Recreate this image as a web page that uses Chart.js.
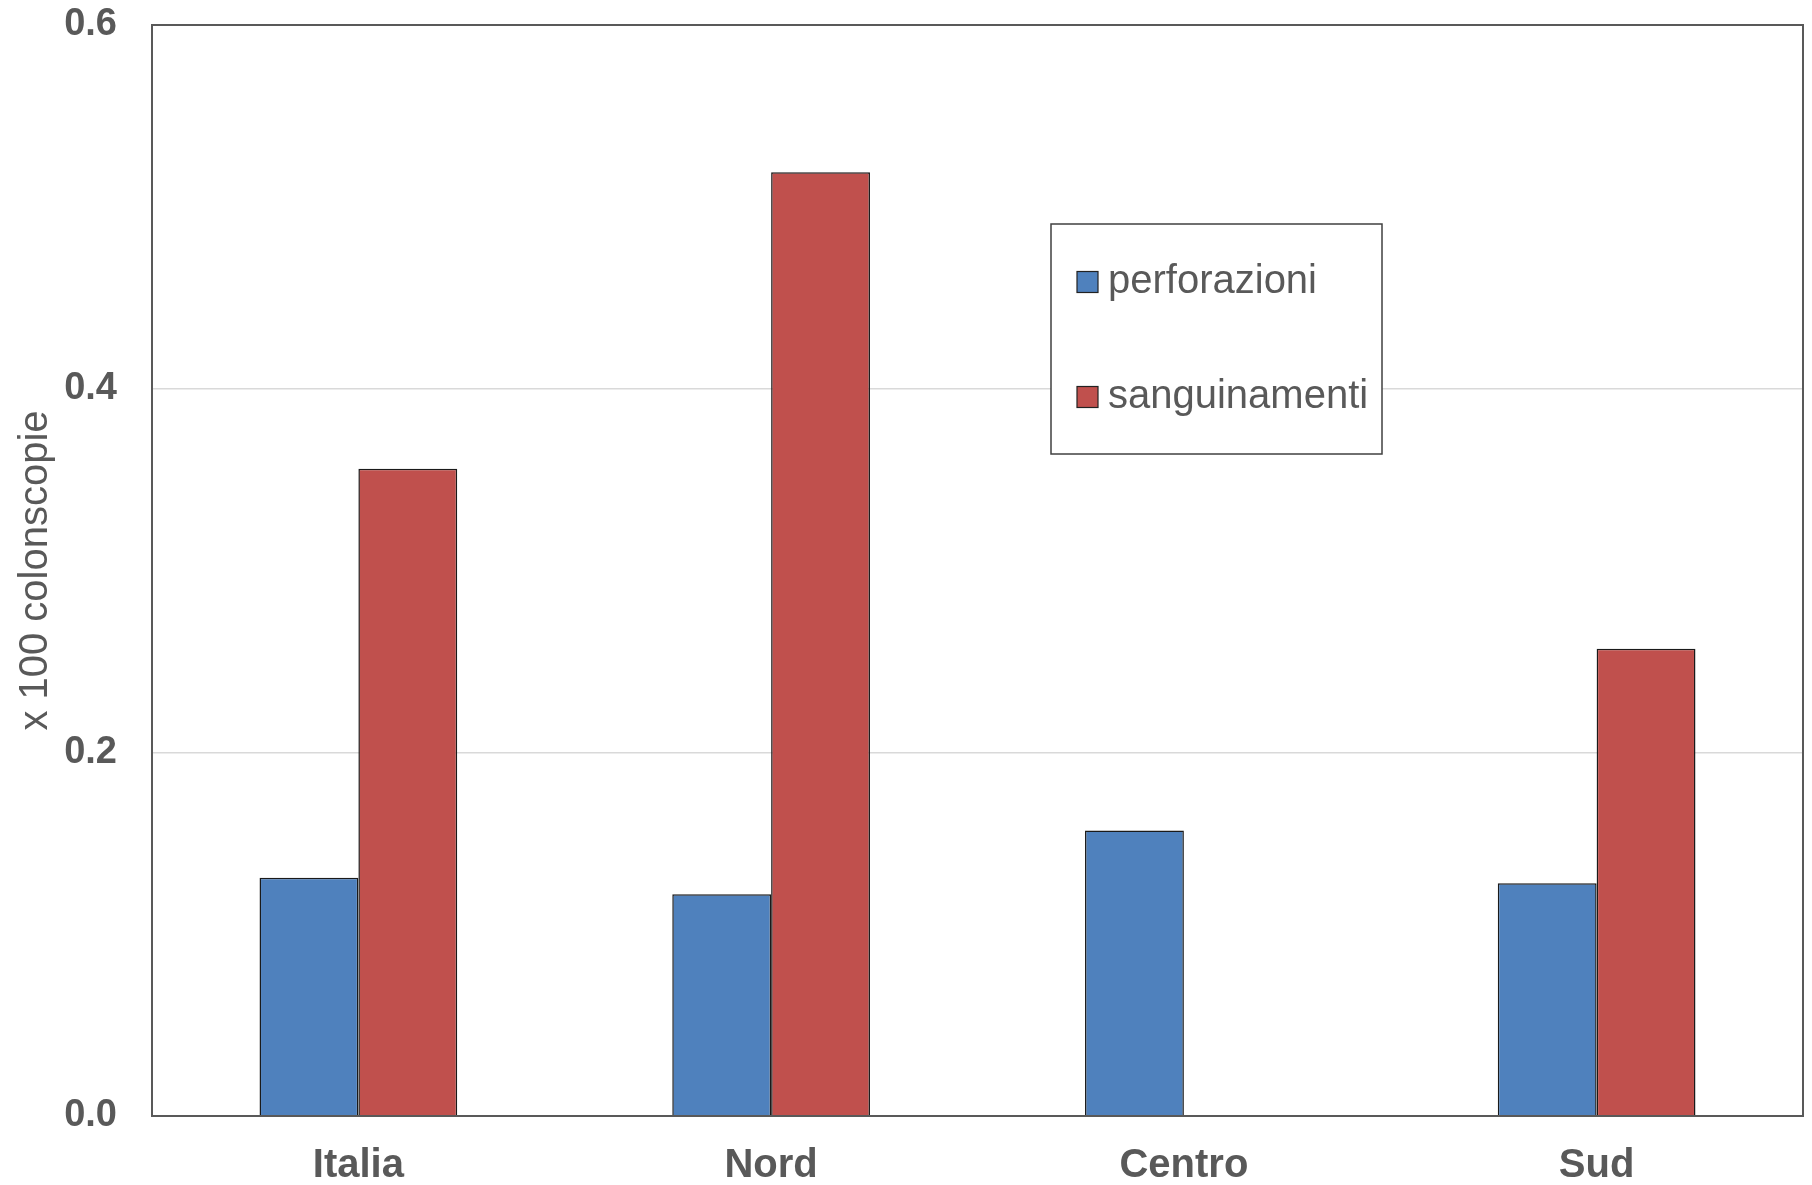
<!DOCTYPE html>
<html>
<head>
<meta charset="utf-8">
<script src="https://cdn.jsdelivr.net/npm/chart.js@4/dist/chart.umd.min.js"></script>
<style>
    body { margin: 0; background: #fff; }
    canvas { display: block; }
</style>
</head>
<body>
<canvas id="chart" width="1812" height="1185"></canvas>
<script>
// Data
const categories = ["Italia", "Nord", "Centro", "Sud"];
const seriesNames = ["perforazioni", "sanguinamenti"];
const perforazioni = [0.131, 0.122, 0.157, 0.128];
const sanguinamenti = [0.356, 0.519, null, 0.257];
const yTicks = [0, 0.2, 0.4, 0.6];
const seriesColors = ["#4F81BD", "#C0504D"];

const textColor = "#595959";
const fontFamily = "'Liberation Sans', Arial, sans-serif";

// Frame around the plot area
const framePlugin = {
    id: "frame",
    afterDatasetsDraw(chart) {
        const { ctx, chartArea: a } = chart;
        ctx.save();
        ctx.strokeStyle = "#595959";
        ctx.lineWidth = 2;
        ctx.strokeRect(a.left, a.top, a.right - a.left, a.bottom - a.top);
        ctx.restore();
    }
};

// Boxed legend inside the plot
const legendBoxPlugin = {
    id: "legendBox",
    afterDraw(chart) {
        const ctx = chart.ctx;
        const box = { x: 1051, y: 224, w: 331, h: 230 };
        ctx.save();
        ctx.fillStyle = "#fff";
        ctx.fillRect(box.x, box.y, box.w, box.h);
        ctx.strokeStyle = "#404040";
        ctx.lineWidth = 1.5;
        ctx.strokeRect(box.x, box.y, box.w, box.h);
        ctx.font = "40px " + fontFamily;
        ctx.textBaseline = "middle";
        chart.data.datasets.forEach((ds, i) => {
            const cy = 282 + i * 115;
            ctx.fillStyle = ds.backgroundColor;
            ctx.fillRect(1077, cy - 10.5, 21, 21);
            ctx.strokeStyle = "#222";
            ctx.lineWidth = 1.2;
            ctx.strokeRect(1077, cy - 10.5, 21, 21);
            ctx.fillStyle = textColor;
            ctx.fillText(ds.label, 1108, cy);
        });
        ctx.restore();
    }
};

const ctx = document.getElementById("chart").getContext("2d");
new Chart(ctx, {
    type: "bar",
    data: {
        labels: categories,
        datasets: [
            {
                label: seriesNames[0],
                data: perforazioni,
                backgroundColor: seriesColors[0],
                borderColor: "#1a1a1a",
                borderWidth: 1.5
            },
            {
                label: seriesNames[1],
                data: sanguinamenti,
                backgroundColor: seriesColors[1],
                borderColor: "#1a1a1a",
                borderWidth: 1.5
            }
        ]
    },
    options: {
        responsive: false,
        devicePixelRatio: 1,
        animation: false,
        layout: { padding: { top: 25, right: 9, left: 0, bottom: 0 } },
        datasets: {
            bar: { categoryPercentage: 0.479, barPercentage: 1 }
        },
        plugins: {
            legend: { display: false },
            tooltip: { enabled: false }
        },
        scales: {
            x: {
                grid: { display: false },
                border: { display: false },
                ticks: {
                    color: textColor,
                    font: { family: fontFamily, size: 40, weight: "bold" },
                    padding: 18,
                    maxRotation: 0
                },
                afterFit(scale) {
                    scale.height = 69;
                    scale.paddingLeft = 0;
                    scale.paddingRight = 0;
                }
            },
            y: {
                min: 0,
                max: 0.6,
                afterBuildTicks(scale) {
                    scale.ticks = yTicks.map(v => ({ value: v }));
                },
                grid: { color: "#d9d9d9", lineWidth: 1.5, drawTicks: false },
                border: { display: false },
                ticks: {
                    color: textColor,
                    font: { family: fontFamily, size: 38, weight: "bold" },
                    padding: 35,
                    callback: v => Number(v).toFixed(1)
                },
                title: {
                    display: true,
                    text: "x 100 colonscopie",
                    color: textColor,
                    font: { family: fontFamily, size: 40 },
                    padding: { top: 12, bottom: 0 }
                },
                afterFit(scale) {
                    scale.width = 152;
                    scale.paddingTop = 0;
                    scale.paddingBottom = 0;
                }
            }
        }
    },
    plugins: [framePlugin, legendBoxPlugin]
});
</script>
</body>
</html>
